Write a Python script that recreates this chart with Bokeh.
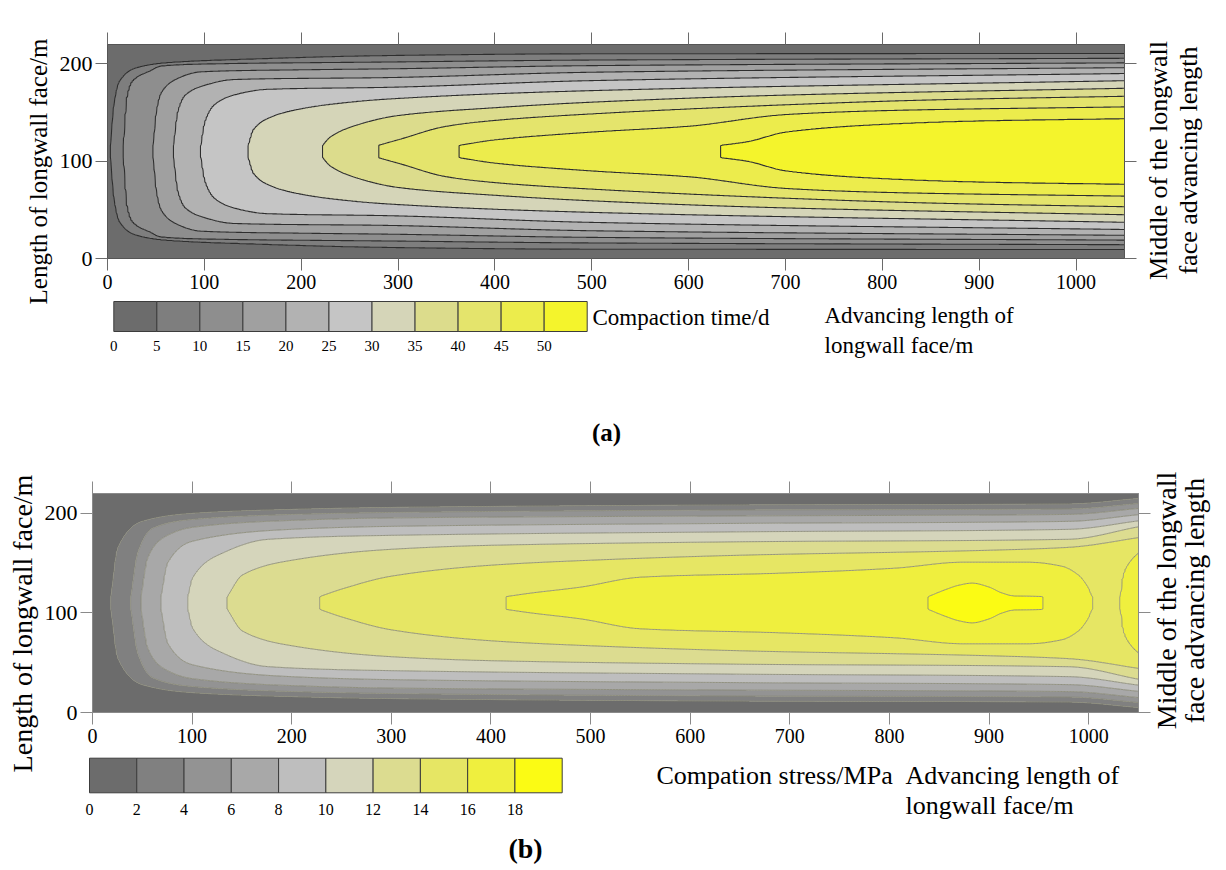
import numpy as np
from bokeh.plotting import figure
from bokeh.models import FixedTicker, LinearAxis
from bokeh.core.properties import value
from bokeh.layouts import column, row
from bokeh.embed import file_html
from bokeh.resources import INLINE

# ======================= data =======================
X_MAX, Y_MAX, Y_MID = 1050, 220, 110
x_ticks = [0, 100, 200, 300, 400, 500, 600, 700, 800, 900, 1000]
y_ticks = [0, 100, 200]

# ---- panel (a): compaction time / d ----
levels_a = [0, 5, 10, 15, 20, 25, 30, 35, 40, 45, 50, 55]
colors_a = ["#6c6c6c", "#7e7e7e", "#8e8e8e", "#a0a0a0", "#b2b2b2", "#c5c5c5",
            "#d5d5b8", "#dcdc8c", "#e4e46c", "#ecec4c", "#f4f42c"]
cbar_labels_a = ["0", "5", "10", "15", "20", "25", "30", "35", "40", "45", "50"]
# value on the middle line (y = 110 m) along the advance
mid_x_a = [0, 3, 16, 47, 68, 96, 145, 222, 280, 363, 633, 1050]
mid_v_a = [3, 5, 10, 15, 20, 25, 30, 35, 40, 45, 50, 53.5]
# distance of each isoline from the middle line, at advance positions x
a05_x = [3, 6, 12, 30, 60, 150, 290, 500, 1050]
a05_d = [6.5, 45, 72, 86, 91, 95, 98.6, 100.4, 100.7]
a10_x = [16, 19.6, 25, 43.7, 55.6, 100, 290, 500, 1050]
a10_d = [6.5, 56, 72, 83, 88, 90, 92, 94, 95.8]
a15_x = [47, 50, 55, 70, 97, 200, 290, 500, 1050]
a15_d = [6.5, 40, 60, 74, 82, 84, 85, 88.3, 91.1]
a20_x = [68, 72, 80, 100, 130, 290, 500, 1050]
a20_d = [6.5, 40, 58, 68, 74, 76, 81.5, 86.2]
a25_x = [96, 100, 110, 130, 165, 290, 500, 1050]
a25_d = [6.5, 30, 48, 58, 64, 66, 72.9, 80.2]
a30_x = [145, 150, 170, 200, 234, 290, 500, 1050]
a30_d = [6.5, 22, 36, 44, 49, 54, 62.6, 72.8]
a35_x = [222, 230, 260, 300, 400, 500, 700, 1050]
a35_d = [6.5, 15, 28, 37, 45, 50.7, 58, 65]
a40_x = [280, 300, 350, 400, 500, 700, 850, 1050]
a40_d = [6.5, 12, 26, 32, 38.7, 48, 53, 56.8]
a45_x = [363, 400, 500, 600, 700, 800, 1050]
a45_d = [6.5, 12, 20, 26, 38, 42, 45.9]
a50_x = [633, 660, 700, 800, 900, 1050]
a50_d = [6.5, 10, 20, 28, 31.5, 33.8]

# ---- panel (b): compaction stress / MPa ----
levels_b = [0, 2, 4, 6, 8, 10, 12, 14, 16, 18, 20]
colors_b = ["#6c6c6c", "#808080", "#939393", "#a8a8a8", "#bebebe",
            "#d5d5bb", "#dcdc90", "#e6e664", "#efef3e", "#fbfb14"]
cbar_labels_b = ["0", "2", "4", "6", "8", "10", "12", "14", "16", "18"]
mid_x_b = [0, 18.4, 38.5, 48.5, 68.6, 95.5, 135, 228, 415, 839, 885, 954, 1004, 1018, 1031, 1050]
mid_v_b = [1, 2, 4, 6, 8, 10, 12, 14, 16, 18, 18.8, 18, 16, 15.4, 16, 16.6]
b02_x = [18.4, 25, 50, 100, 200, 300, 650, 980, 1050]
b02_d = [6.5, 55, 82, 90, 94, 96, 98.5, 99.5, 105]
b04_x = [38.5, 45, 60, 100, 200, 300, 650, 980, 1050]
b04_d = [6.5, 50, 75, 84, 89, 91, 93.5, 94.5, 100]
b06_x = [48.5, 55, 70, 100, 200, 300, 650, 980, 1050]
b06_d = [6.5, 45, 65, 76, 83, 85.5, 87.5, 89, 95]
b08_x = [68.6, 75, 100, 200, 300, 650, 980, 1050]
b08_d = [6.5, 40, 62, 74, 77, 80, 82, 88.7]
b10_x = [95.5, 100, 130, 176, 300, 650, 980, 1050]
b10_d = [6.5, 25, 50, 64, 68, 71.5, 74, 82.5]
b12_x = [135, 150, 200, 300, 400, 650, 980, 1050]
b12_d = [6.5, 28, 43, 54, 58, 61.5, 64, 76.6]
b14_x = [228, 250, 300, 400, 500, 650, 900, 980, 1050]
b14_d = [6.5, 14, 27, 38, 43, 48, 53, 56, 65.7]
b16_x = [415, 440, 490, 550, 690, 805, 873, 940, 973, 990, 1000, 1004, 1031, 1034, 1040, 1050]
b16_d = [6.5, 10, 16, 26, 30, 35, 41, 41, 37, 28, 15, 6.5, 6.5, 27, 40, 51]
b18_x = [839, 855, 870, 883, 900, 913, 925, 954]
b18_d = [6.5, 13, 18, 20, 16, 10, 7, 6.5]

iso_a = [(5, a05_x, a05_d), (10, a10_x, a10_d), (15, a15_x, a15_d), (20, a20_x, a20_d),
         (25, a25_x, a25_d), (30, a30_x, a30_d), (35, a35_x, a35_d), (40, a40_x, a40_d),
         (45, a45_x, a45_d), (50, a50_x, a50_d)]
iso_b = [(2, b02_x, b02_d), (4, b04_x, b04_d), (6, b06_x, b06_d), (8, b08_x, b08_d),
         (10, b10_x, b10_d), (12, b12_x, b12_d), (14, b14_x, b14_d), (16, b16_x, b16_d),
         (18, b18_x, b18_d)]


def pchip(xs, ys, xq):
    """Shape-preserving cubic through the read isoline positions."""
    xs = np.asarray(xs, float)
    ys = np.asarray(ys, float)
    h = np.diff(xs)
    dl = np.diff(ys) / h
    n = len(xs)
    m = np.zeros(n)
    m[0], m[-1] = dl[0], dl[-1]
    for k in range(1, n - 1):
        if dl[k - 1] * dl[k] > 0:
            w1 = 2 * h[k] + h[k - 1]
            w2 = h[k] + 2 * h[k - 1]
            m[k] = (w1 + w2) / (w1 / dl[k - 1] + w2 / dl[k])
    i = int(np.clip(np.searchsorted(xs, xq) - 1, 0, n - 2))
    t = (xq - xs[i]) / h[i]
    h00 = 2 * t ** 3 - 3 * t ** 2 + 1
    h10 = t ** 3 - 2 * t ** 2 + t
    h01 = -2 * t ** 3 + 3 * t ** 2
    h11 = t ** 3 - t ** 2
    return h00 * ys[i] + h10 * h[i] * m[i] + h01 * ys[i + 1] + h11 * h[i] * m[i + 1]


def build_field(xg, yg, mid_x, mid_v, iso, plateau=6.0):
    """Gridded field whose isolines pass through the read positions."""
    Z = np.zeros((len(yg), len(xg)))
    dist = np.abs(yg - Y_MID)
    for j, x in enumerate(xg):
        fc = float(np.interp(x, mid_x, mid_v))
        cross = []
        for lev, xs, ds in iso:
            if lev < fc and xs[0] <= x <= xs[-1]:
                cross.append((float(pchip(xs, ds, x)), lev))
        cross.sort(key=lambda t: -t[1])
        pd, pz, last = [0.0, plateau], [fc, fc], plateau
        for d, lev in cross:
            d = max(d, last + 0.05)
            pd.append(d)
            pz.append(lev)
            last = d
        pd.append(max(Y_MAX - Y_MID, last + 0.05))
        pz.append(0.0)
        Z[:, j] = np.interp(dist, pd, pz)
    return Z


xg = np.linspace(0, X_MAX, 701)
yg = np.linspace(0, Y_MAX, 441)
Z_a = build_field(xg, yg, mid_x_a, mid_v_a, iso_a)
Z_b = build_field(xg, yg, mid_x_b, mid_v_b, iso_b)

FONT = "Liberation Serif"


def make_panel(Z, levels, colors, line_color, line_width, w, h, bl, br, bt, bb,
               tick_col, outline_col):
    p = figure(width=w, height=h, x_range=(0, X_MAX), y_range=(0, Y_MAX),
               output_backend="svg", toolbar_location=None, frame_align=False,
               min_border_left=bl, min_border_right=br,
               min_border_top=bt, min_border_bottom=bb)
    p.grid.visible = False
    p.outline_line_color = outline_col
    p.background_fill_color = "white"
    p.border_fill_color = "white"
    p.contour(xg, yg, Z, levels, fill_color=colors, line_color=line_color,
              line_width=line_width)

    def style(ax, size="20px", hidden=False, standoff=4):
        ax.axis_line_color = outline_col
        ax.major_tick_line_color = tick_col
        ax.major_tick_out = 12
        ax.major_tick_in = 0
        ax.minor_tick_line_color = None
        ax.major_label_text_font = FONT
        ax.major_label_text_font_size = "0px" if hidden else size
        ax.major_label_text_color = "black"
        ax.major_label_standoff = 0 if hidden else standoff

    p.xaxis.ticker = FixedTicker(ticks=x_ticks)
    p.yaxis.ticker = FixedTicker(ticks=y_ticks)
    style(p.xaxis[0], size="20px")
    style(p.yaxis[0], size="22px", standoff=3)
    top = LinearAxis(ticker=FixedTicker(ticks=x_ticks),
                     major_label_overrides={t: "" for t in x_ticks})
    style(top, hidden=True)
    p.add_layout(top, "above")
    right = LinearAxis(ticker=FixedTicker(ticks=y_ticks),
                       major_label_overrides={t: "" for t in y_ticks})
    style(right, hidden=True)
    p.add_layout(right, "right")
    return p


def deco(w, h):
    d = figure(width=w, height=h, x_range=(0, w), y_range=(0, h),
               output_backend="svg", toolbar_location=None, frame_align=False,
               x_axis_location=None, y_axis_location=None, min_border=0)
    d.grid.visible = False
    d.outline_line_color = None
    d.background_fill_color = "white"
    d.border_fill_color = "white"
    return d


def txt(d, x, y, s, size, align="left", angle=0.0, bold=False):
    d.text(x=[x], y=[d.height - y], text=[s], text_font=value(FONT),
           text_font_size=value(size), text_align=align, text_baseline="middle",
           angle=angle, text_color="black",
           text_font_style="bold" if bold else "normal")


def cbar(d, left, right, top, bottom, colors, labels, lab_y, lab_size):
    n = len(colors)
    w = (right - left) / n
    H = d.height
    d.quad(left=[left + i * w for i in range(n)], right=[left + (i + 1) * w for i in range(n)],
           top=[H - top] * n, bottom=[H - bottom] * n, fill_color=colors,
           line_color="#3c3c3c", line_width=1)
    for i, t in enumerate(labels):
        txt(d, left + i * w, lab_y, t, lab_size, align="center")


# ---------------- panel (a) ----------------
pa = make_panel(Z_a, levels_a, colors_a, "#2e2e2e", 1.1, 1084, 300, 50, 16, 44, 42,
                "#6a6a6a", "#555555")
la = deco(56, 450)
txt(la, 38, 171, "Length of longwall face/m", "25px", align="center", angle=np.pi / 2)
ra = deco(86, 300)
txt(ra, 18, 160, "Middle of the longwall", "26px", align="center", angle=np.pi / 2)
txt(ra, 48, 160, "face advancing length", "26px", align="center", angle=np.pi / 2)
da = deco(1170, 150)
cbar(da, 57.3, 530.7, 1, 31, colors_a, cbar_labels_a, 45, "15px")
txt(da, 536, 17, "Compaction time/d", "23px")
txt(da, 768, 15, "Advancing length of", "23px")
txt(da, 768, 45, "longwall face/m", "23px")
txt(da, 550, 132, "(a)", "25px", align="center", bold=True)

# ---------------- panel (b) ----------------
pb = make_panel(Z_b, levels_b, colors_b, "#8a8a78", 0.9, 1112, 305, 52, 14, 43, 43,
                "#8a8a8a", "#8a8a8a")
lb = deco(40, 420)
txt(lb, 22, 173, "Length of longwall face/m", "28px", align="center", angle=np.pi / 2)
rb = deco(74, 305)
txt(rb, 14, 150, "Middle of the longwall", "28px", align="center", angle=np.pi / 2)
txt(rb, 42, 150, "face advancing length", "28px", align="center", angle=np.pi / 2)
db = deco(1186, 115)
cbar(db, 49, 521.7, 2.7, 37.3, colors_b, cbar_labels_b, 54, "16px")
txt(db, 616, 20, "Compation stress/MPa", "26px")
txt(db, 865, 20, "Advancing length of", "26px")
txt(db, 865, 50, "longwall face/m", "26px")
txt(db, 485, 93, "(b)", "28px", align="center", bold=True)

layout = column(
    row(la, column(row(pa, ra), da)),
    row(lb, column(row(pb, rb), db)),
)
open("out.html", "w").write(file_html(layout, INLINE))
